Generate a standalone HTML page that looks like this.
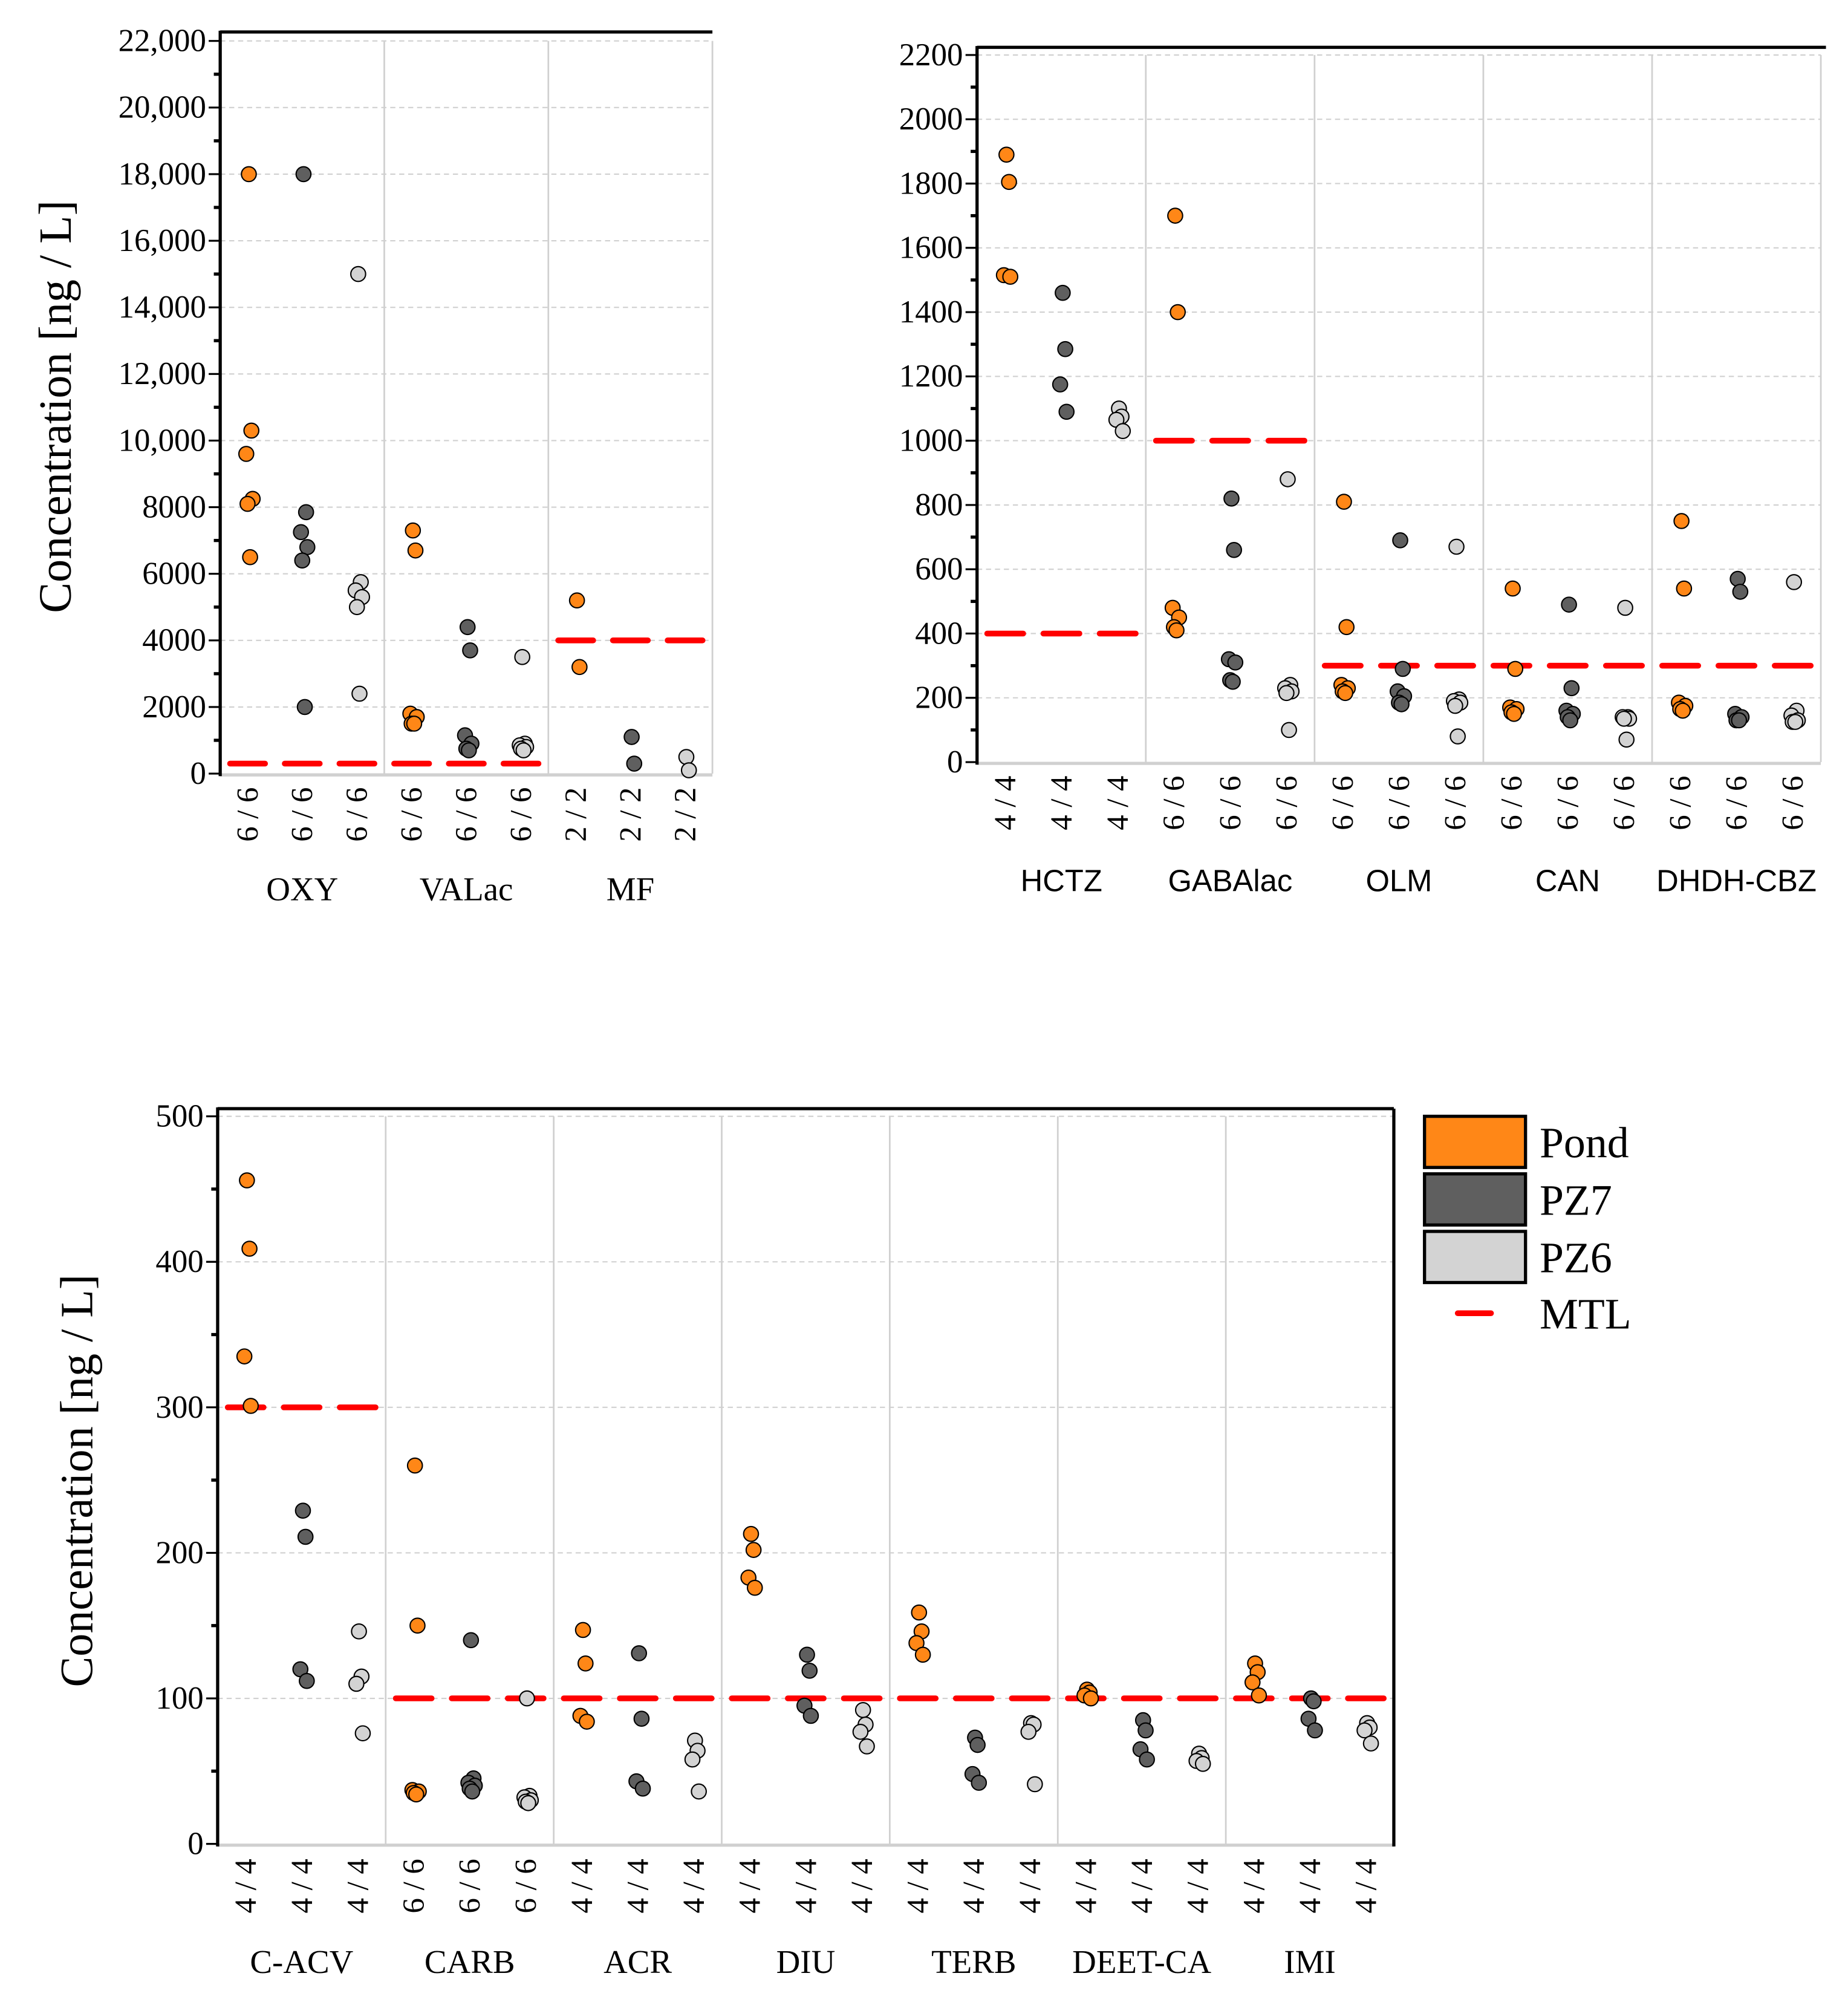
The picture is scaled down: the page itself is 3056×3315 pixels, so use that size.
<!DOCTYPE html>
<html><head><meta charset="utf-8"><style>
html,body{margin:0;padding:0;background:#fff;}
svg{display:block;}
</style></head><body>
<svg id="root" width="3056" height="3315" viewBox="0 0 1445 1568" xmlns="http://www.w3.org/2000/svg"></svg>
<script>
// ---------- Chart 1 data ----------
const c1Categories = ["OXY","VALac","MF"];
const c1Counts = ["6 / 6","6 / 6","2 / 2"];
const c1Pond = [[18000,10300,9600,8250,8100,6500],[7300,6700,1800,1700,1500,1500],[5200,3200]];
const c1PZ7 = [[18000,7850,7250,6800,6400,2000],[4400,3700,1150,900,750,700],[1100,300]];
const c1PZ6 = [[15000,5750,5500,5300,5000,2400],[3500,900,850,800,750,700],[500,100]];
const c1MTL = [300,300,4000];
const c1Ticks = [0,2000,4000,6000,8000,10000,12000,14000,16000,18000,20000,22000];
const c1TickLabels = ["0","2000","4000","6000","8000","10,000","12,000","14,000","16,000","18,000","20,000","22,000"];
// ---------- Chart 2 data ----------
const c2Categories = ["HCTZ","GABAlac","OLM","CAN","DHDH-CBZ"];
const c2Counts = ["4 / 4","6 / 6","6 / 6","6 / 6","6 / 6"];
const c2Pond = [[1890,1805,1515,1510],[1700,1400,480,450,420,410],[810,420,240,230,220,215],[540,290,170,165,155,150],[750,540,185,175,165,160]];
const c2PZ7 = [[1460,1285,1175,1090],[820,660,320,310,255,250],[690,290,220,205,185,180],[490,230,160,150,140,130],[570,530,150,140,130,130]];
const c2PZ6 = [[1100,1075,1065,1030],[880,240,230,220,215,100],[670,195,190,185,175,80],[480,140,140,135,135,70],[560,160,145,130,125,125]];
const c2MTL = [400,1000,300,300,300];
const c2Ticks = [0,200,400,600,800,1000,1200,1400,1600,1800,2000,2200];
const c2TickLabels = ["0","200","400","600","800","1000","1200","1400","1600","1800","2000","2200"];
// ---------- Chart 3 data ----------
const c3Categories = ["C-ACV","CARB","ACR","DIU","TERB","DEET-CA","IMI"];
const c3Counts = ["4 / 4","6 / 6","4 / 4","4 / 4","4 / 4","4 / 4","4 / 4"];
const c3Pond = [[456,409,335,301],[260,150,37,36,35,34],[147,124,88,84],[213,202,183,176],[159,146,138,130],[106,104,102,100],[124,118,111,102]];
const c3PZ7 = [[229,211,120,112],[140,45,42,40,38,36],[131,86,43,38],[130,119,95,88],[73,68,48,42],[85,78,65,58],[100,98,86,78]];
const c3PZ6 = [[146,115,110,76],[100,33,32,30,29,28],[71,64,58,36],[92,82,77,67],[83,82,77,41],[62,59,57,55],[83,80,78,69]];
const c3MTL = [300,100,100,100,100,100,100];
const c3Ticks = [0,100,200,300,400,500];
const c3TickLabels = ["0","100","200","300","400","500"];

const NS="http://www.w3.org/2000/svg";
const root=document.getElementById('root');
const SERIF='"Liberation Serif", serif';
const SANS='"Liberation Sans", sans-serif';
const COLORS={pond:"#ff8717",pz7:"#5f5f5f",pz6:"#d3d3d3"};
const JIT=[0,2,-2,3,-1,1];
function el(tag,attrs,parent){const e=document.createElementNS(NS,tag);for(const k in attrs)e.setAttribute(k,attrs[k]);(parent||root).appendChild(e);return e;}
function txt(s,attrs,parent){const t=el('text',attrs,parent);t.textContent=s;return t;}

function drawChart(cfg,cats,counts,pond,pz7,pz6,mtl,ticks,tickLabels){
  const g=el('g',{});
  
  
  const y=v=>cfg.y0-(v-cfg.min)/(cfg.max-cfg.min)*(cfg.y0-cfg.yTop);
  const gw=(cfg.xR-cfg.xL)/cats.length;
  const sx=(c,i)=>cfg.xL+gw*c+gw*(i+0.5)/3;
  ticks.forEach((t,i)=>{
    if(t>0){const l=el('line',{x1:cfg.xL,x2:cfg.xR,y1:y(t),y2:y(t),stroke:"#d0d0d0","stroke-width":1,"stroke-dasharray":"4 3"},g);
      }
  });
  for(let c=1;c<=cats.length;c++){
    const x=cfg.xL+gw*c;
    const l=el('line',{x1:x,x2:x,y1:cfg.sepTop,y2:cfg.y0,stroke:"#d0d0d0","stroke-width":1.3},g);
    
  }
  const ba=el('line',{x1:cfg.xL,x2:cfg.xR,y1:cfg.y0+1,y2:cfg.y0+1,stroke:"#d0d0d0","stroke-width":2.5},g);
  
  const tb=el('line',{x1:cfg.xL,x2:cfg.topRight,y1:cfg.topY,y2:cfg.topY,stroke:"#000","stroke-width":2.5},g);
  
  if(cfg.rightBlack){const rb=el('line',{x1:cfg.xR,x2:cfg.xR,y1:cfg.topY,y2:cfg.y0+2,stroke:"#000","stroke-width":2.5},g);
    }
  const ya=el('line',{x1:cfg.xL,x2:cfg.xL,y1:cfg.topY-1,y2:cfg.y0+2,stroke:"#000","stroke-width":2.5},g);
  
  ticks.forEach((t,i)=>{
    el('line',{x1:cfg.xL-9,x2:cfg.xL,y1:y(t),y2:y(t),stroke:"#000","stroke-width":1.5},g);
    if(i<ticks.length-1){const m=(t+ticks[i+1])/2;el('line',{x1:cfg.xL-5,x2:cfg.xL,y1:y(m),y2:y(m),stroke:"#000","stroke-width":2.5},g);}
    const tl=txt(tickLabels[i],{x:cfg.xL-11,y:y(t)+8,"text-anchor":"end","font-family":SERIF,"font-size":cfg.tickFs,fill:"#000"},g);
    
  });
  const yt=txt("Concentration [ng / L]",{x:0,y:0,transform:`translate(${cfg.titleX},${cfg.titleY}) rotate(-90)`,"text-anchor":"middle","font-family":SERIF,"font-size":36,fill:"#000"},g);
  
  cats.forEach((cat,c)=>{
    for(let i=0;i<3;i++){
      const x=sx(c,i);
      const cl=txt(counts[c],{x:0,y:0,transform:`translate(${x+8},${cfg.countY}) rotate(-90)`,"text-anchor":"middle","font-family":SERIF,"font-size":24,fill:"#000"},g);
      
    }
    const lb=txt(cat,{x:cfg.xL+gw*(c+0.5),y:cfg.catY,"text-anchor":"middle","font-family":cfg.catFont,"font-size":cfg.catFs,fill:"#000"},g);
    
    for(let i=0;i<3;i++){
      const x=sx(c,i),half=gw/3*0.32;
      const m=el('line',{x1:x-half,x2:x+half,y1:y(mtl[c]),y2:y(mtl[c]),stroke:"#ff0000","stroke-width":4.5,"stroke-linecap":"round"},g);
      
    }
    [[pond,'pond'],[pz7,'pz7'],[pz6,'pz6']].forEach(([arr,key],i)=>{
      arr[c].forEach((v,k)=>{
        const p=el('circle',{cx:sx(c,i)+JIT[k%6]+1,cy:y(v),r:5.8,fill:COLORS[key],stroke:"#000","stroke-width":1},g);
        
      });
    });
  });
}

drawChart({name:'chart-top-left',xL:172,xR:557,y0:605,yTop:32,min:0,max:22000,topY:25,topRight:557,sepTop:32,rightBlack:false,
  tickFs:25,titleX:55,titleY:318,countY:637,catY:704,catFont:SERIF,catFs:26},
  c1Categories,c1Counts,c1Pond,c1PZ7,c1PZ6,c1MTL,c1Ticks,c1TickLabels);
drawChart({name:'chart-top-right',xL:764,xR:1424,y0:596,yTop:43,min:0,max:2200,topY:37,topRight:1428,sepTop:43,rightBlack:false,
  tickFs:25,titleX:-500,titleY:-500,countY:628,catY:697,catFont:SANS,catFs:24},
  c2Categories,c2Counts,c2Pond,c2PZ7,c2PZ6,c2MTL,c2Ticks,c2TickLabels);
drawChart({name:'chart-bottom',xL:170,xR:1090,y0:1442,yTop:873,min:0,max:500,topY:867,topRight:1090,sepTop:873,rightBlack:true,
  tickFs:25,titleX:72,titleY:1158,countY:1475,catY:1543,catFont:SERIF,catFs:26},
  c3Categories,c3Counts,c3Pond,c3PZ7,c3PZ6,c3MTL,c3Ticks,c3TickLabels);

const lg=el('g',{});


[["Pond","pond",873],["PZ7","pz7",918],["PZ6","pz6",963]].forEach(([lab,key,yy])=>{
  const r=el('rect',{x:1114,y:yy,width:79,height:40,fill:COLORS[key],stroke:"#000","stroke-width":2.5},lg);
  
  const t=txt(lab,{x:1204,y:yy+32,"font-family":SERIF,"font-size":34,fill:"#000"},lg);
  
});
const ml=el('line',{x1:1140,x2:1166,y1:1027,y2:1027,stroke:"#ff0000","stroke-width":4.5,"stroke-linecap":"round"},lg);

const mt=txt("MTL",{x:1204,y:1039,"font-family":SERIF,"font-size":34,fill:"#000"},lg);

</script>
</body></html>
